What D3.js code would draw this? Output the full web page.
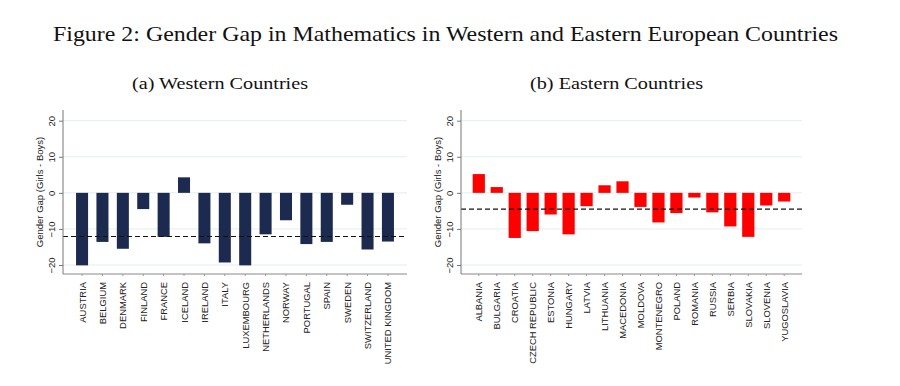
<!DOCTYPE html>
<html>
<head>
<meta charset="utf-8">
<script src="https://cdn.jsdelivr.net/npm/d3@7"></script>
<style>
  body { margin: 0; background: #fff; }
  svg { display: block; }
</style>
</head>
<body>
<svg id="chart" width="900" height="386"></svg>
<script>
// data
const westCountries = ['AUSTRIA','BELGIUM','DENMARK','FINLAND','FRANCE','ICELAND','IRELAND','ITALY',
  'LUXEMBOURG','NETHERLANDS','NORWAY','PORTUGAL','SPAIN','SWEDEN','SWITZERLAND','UNITED KINGDOM'];
const westGap = [-20.1, -13.6, -15.5, -4.5, -12.2, 4.3, -14.0, -19.3,
  -20.1, -11.5, -7.6, -14.2, -13.6, -3.3, -15.7, -13.5];
const westMean = -12.1;

const eastCountries = ['ALBANIA','BULGARIA','CROATIA','CZECH REPUBLIC','ESTONIA','HUNGARY','LATVIA',
  'LITHUANIA','MACEDONIA','MOLDOVA','MONTENEGRO','POLAND','ROMANIA','RUSSIA','SERBIA','SLOVAKIA',
  'SLOVENIA','YUGOSLAVIA'];
const eastGap = [5.2, 1.6, -12.5, -10.6, -6.0, -11.5, -3.7, 2.1, 3.2, -3.9,
  -8.2, -5.6, -1.3, -5.4, -9.3, -12.2, -3.5, -2.4];
const eastMean = -4.5;

const yTicks = [-20, -10, 0, 10, 20];

const svg = d3.select('#chart');

svg.append('text')
  .attr('x', 445.5)
  .attr('y', 41)
  .attr('text-anchor', 'middle')
  .attr('font-family', 'Liberation Serif, serif')
  .attr('font-size', 21)
  .attr('textLength', 785)
  .attr('lengthAdjust', 'spacingAndGlyphs')
  .attr('fill', '#111')
  .text('Figure 2: Gender Gap in Mathematics in Western and Eastern European Countries');

function panel(opts) {
  const { left, right, top, bottom, cats, vals, mean, color, title, titleX, titleW,
          pInner, pOuter } = opts;

  const g = svg.append('g');

  g.append('text')
    .attr('x', titleX)
    .attr('y', 89)
    .attr('font-family', 'Liberation Serif, serif')
    .attr('font-size', 17)
    .attr('textLength', titleW)
    .attr('lengthAdjust', 'spacingAndGlyphs')
    .attr('fill', '#111')
    .text(title);

  const y = d3.scaleLinear().domain([-20, 20]).range([265, 120.7]);

  const x = d3.scaleBand()
    .domain(cats)
    .range([left, right])
    .paddingInner(pInner)
    .paddingOuter(pOuter);

  // gridlines
  g.append('g')
    .selectAll('line')
    .data(yTicks)
    .join('line')
      .attr('x1', left)
      .attr('x2', right)
      .attr('y1', d => y(d))
      .attr('y2', d => y(d))
      .attr('stroke', '#e6ecef')
      .attr('stroke-width', 1);

  // bars
  g.append('g')
    .selectAll('rect')
    .data(vals)
    .join('rect')
      .attr('x', (d, i) => x(cats[i]))
      .attr('width', x.bandwidth())
      .attr('y', d => y(Math.max(0, d)))
      .attr('height', d => Math.abs(y(d) - y(0)))
      .attr('fill', color);

  // mean line
  g.append('line')
    .attr('x1', left)
    .attr('x2', right)
    .attr('y1', y(mean))
    .attr('y2', y(mean))
    .attr('stroke', '#111')
    .attr('stroke-width', 1.2)
    .attr('stroke-dasharray', '5,3');

  // y axis
  const yAxis = g.append('g')
    .attr('transform', 'translate(' + left + ',0)')
    .call(d3.axisLeft(y).tickValues(yTicks).tickSize(4).tickFormat(d3.format('d')));
  yAxis.select('.domain').attr('d', 'M0,' + top + 'V' + bottom).attr('stroke', '#777');
  yAxis.selectAll('.tick line').attr('stroke', '#777');
  yAxis.selectAll('.tick text')
    .attr('x', 0).attr('y', 0)
    .attr('dy', 0)
    .attr('transform', 'translate(-8,0) rotate(-90)')
    .attr('text-anchor', 'middle')
    .attr('font-family', 'Liberation Sans, Arial, sans-serif')
    .attr('font-size', 9.5)
    .attr('fill', '#222');

  g.append('text')
    .attr('transform', 'translate(' + (left - 20) + ',192) rotate(-90)')
    .attr('text-anchor', 'middle')
    .attr('font-family', 'Liberation Sans, Arial, sans-serif')
    .attr('font-size', 9.5)
    .attr('fill', '#222')
    .text('Gender Gap (Girls - Boys)');

  // x axis
  const xAxis = g.append('g')
    .attr('transform', 'translate(0,' + bottom + ')')
    .call(d3.axisBottom(x).tickSize(2));
  xAxis.select('.domain').attr('d', 'M' + left + ',0H' + right).attr('stroke', '#888');
  xAxis.selectAll('.tick line').attr('stroke', '#999');
  xAxis.selectAll('.tick text')
    .attr('x', 0).attr('y', 0)
    .attr('dy', 0)
    .attr('transform', 'translate(3.5,8) rotate(-90)')
    .attr('text-anchor', 'end')
    .attr('font-family', 'Liberation Sans, Arial, sans-serif')
    .attr('font-size', 9.4)
    .attr('fill', '#222');
}

panel({
  left: 63, right: 407, top: 110, bottom: 274,
  cats: westCountries, vals: westGap, mean: westMean,
  color: '#1b2a4e', title: '(a) Western Countries', titleX: 132, titleW: 176,
  pInner: 0.41, pOuter: 0.64
});

panel({
  left: 461, right: 802, top: 110, bottom: 274,
  cats: eastCountries, vals: eastGap, mean: eastMean,
  color: '#ff0000', title: '(b) Eastern Countries', titleX: 530, titleW: 173,
  pInner: 0.32, pOuter: 0.65
});
</script>
</body>
</html>
